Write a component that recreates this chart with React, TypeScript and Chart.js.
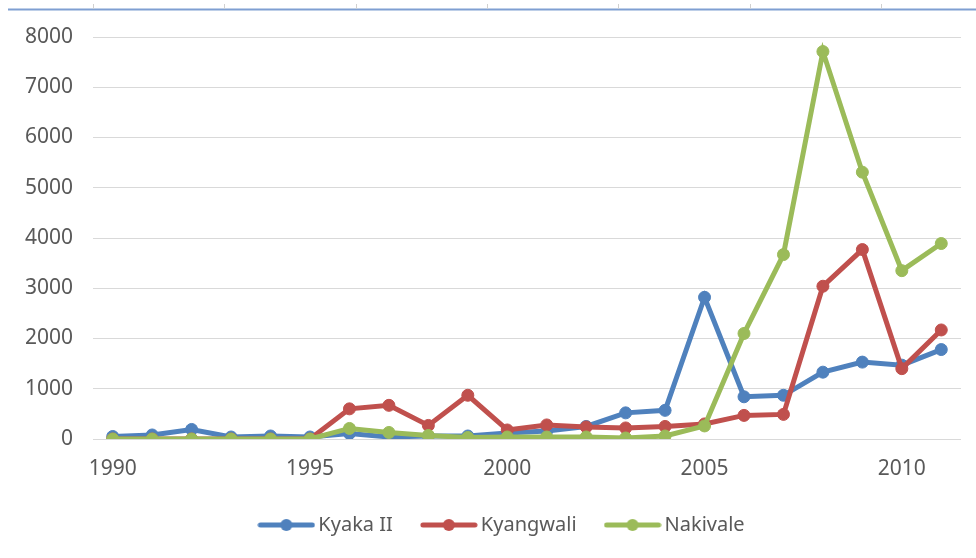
import React, { useEffect, useRef } from "react";
import { Chart, registerables } from "chart.js";

Chart.register(...registerables);

const years = ["1990","1991","1992","1993","1994","1995","1996","1997","1998","1999","2000","2001","2002","2003","2004","2005","2006","2007","2008","2009","2010","2011"];
const kyakaII = [50, 80, 190, 40, 60, 40, 110, 40, 60, 60, 120, 160, 250, 520, 570, 2820, 840, 870, 1330, 1530, 1470, 1780];
const kyangwali = [0, 0, 0, 0, 0, 0, 600, 670, 270, 870, 180, 280, 240, 220, 250, 300, 470, 490, 3040, 3770, 1400, 2170];
const nakivale = [0, 0, 0, 0, 0, 0, 210, 130, 70, 30, 40, 40, 40, 20, 60, 260, 2100, 3670, 7710, 5310, 3350, 3890];
const seriesNames = ["Kyaka II", "Kyangwali", "Nakivale"];
const seriesColors = ["#4F81BD", "#C0504D", "#9BBB59"];
const yTicksMax = 8000;
const yStep = 1000;

const FONT = "'Noto Sans', sans-serif";
const TEXT = "#595959";
const LEGEND_SHIFT = 24;

function legendSymbol(color: string) {
  const c = document.createElement("canvas");
  c.width = 58;
  c.height = 14;
  const ctx = c.getContext("2d")!;
  ctx.strokeStyle = color;
  ctx.lineWidth = 5;
  ctx.lineCap = "round";
  ctx.beginPath();
  ctx.moveTo(3, 7);
  ctx.lineTo(55, 7);
  ctx.stroke();
  ctx.fillStyle = color;
  ctx.beginPath();
  ctx.arc(29, 7, 6, 0, Math.PI * 2);
  ctx.fill();
  return c;
}

const topLinePlugin = {
  id: "topLine",
  afterLayout(chart: any) {
    if (chart.legend) {
      chart.legend.left += LEGEND_SHIFT;
      chart.legend.right += LEGEND_SHIFT;
    }
  },
  beforeDraw(chart: any) {
    const ctx = chart.ctx;
    ctx.save();
    ctx.strokeStyle = "#7F9FD2";
    ctx.lineWidth = 2;
    ctx.beginPath();
    ctx.moveTo(8, 9.5);
    ctx.lineTo(976, 9.5);
    ctx.stroke();
    ctx.strokeStyle = "#d0d0d0";
    ctx.lineWidth = 1;
    for (let i = 0; i < 7; i++) {
      const x = Math.round(93 + i * 131.3) + 0.5;
      ctx.beginPath();
      ctx.moveTo(x, 4);
      ctx.lineTo(x, 9);
      ctx.stroke();
    }
    ctx.restore();
  },
};

export default function App() {
  const ref = useRef<HTMLCanvasElement>(null);
  useEffect(() => {
    const values = [kyakaII, kyangwali, nakivale];
    const symbols = seriesColors.map(legendSymbol);
    const chart = new Chart(ref.current!, {
      type: "line",
      data: {
        labels: years,
        datasets: values.map((v, i) => ({
          label: seriesNames[i],
          data: v,
          borderColor: seriesColors[i],
          backgroundColor: seriesColors[i],
          borderWidth: 5,
          pointRadius: 6,
          pointBorderWidth: 1,
          pointBackgroundColor: seriesColors[i],
          pointBorderColor: seriesColors[i],
          tension: 0,
          order: 3 - i,
        })),
      },
      options: {
        animation: false,
        responsive: false,
        maintainAspectRatio: false,
        layout: { padding: { top: 37, left: 0, right: 15, bottom: 13 } },
        scales: {
          x: {
            offset: true,
            grid: { display: false, drawTicks: false },
            border: { display: false },
            ticks: {
              autoSkip: false,
              maxRotation: 0,
              padding: 17,
              color: TEXT,
              font: { family: FONT, size: 21 },
              callback: (_v: any, idx: number) => (idx % 5 === 0 ? years[idx] : ""),
            },
            afterFit: (s: any) => {
              s.height = 42;
            },
          },
          y: {
            min: 0,
            max: yTicksMax,
            grid: { color: "#d9d9d9", lineWidth: 1, drawTicks: false },
            border: { display: false },
            ticks: {
              stepSize: yStep,
              padding: 20,
              color: TEXT,
              font: { family: FONT, size: 21 },
              callback: (v: any) => String(v),
            },
            afterFit: (s: any) => {
              s.width = 93;
            },
          },
        },
        plugins: {
          tooltip: { enabled: false },
          legend: {
            position: "bottom",
            labels: {
              usePointStyle: true,
              pointStyleWidth: 44,
              boxHeight: 14,
              padding: 34,
              color: TEXT,
              font: { family: FONT, size: 20 },
              generateLabels: (ch: any) =>
                ch.data.datasets.map((d: any, i: number) => ({
                  text: d.label,
                  pointStyle: symbols[i],
                  fillStyle: seriesColors[i],
                  strokeStyle: seriesColors[i],
                  lineWidth: 0,
                  fontColor: TEXT,
                  hidden: !ch.isDatasetVisible(i),
                  datasetIndex: i,
                })),
            },
          },
        },
      },
      plugins: [topLinePlugin],
    });
    return () => chart.destroy();
  }, []);
  return (
    <div style={{ position: "absolute", left: 0, top: 0, width: 976, height: 558, background: "#fff" }}>
      <canvas ref={ref} width={976} height={558} style={{ width: 976, height: 558 }} />
    </div>
  );
}
